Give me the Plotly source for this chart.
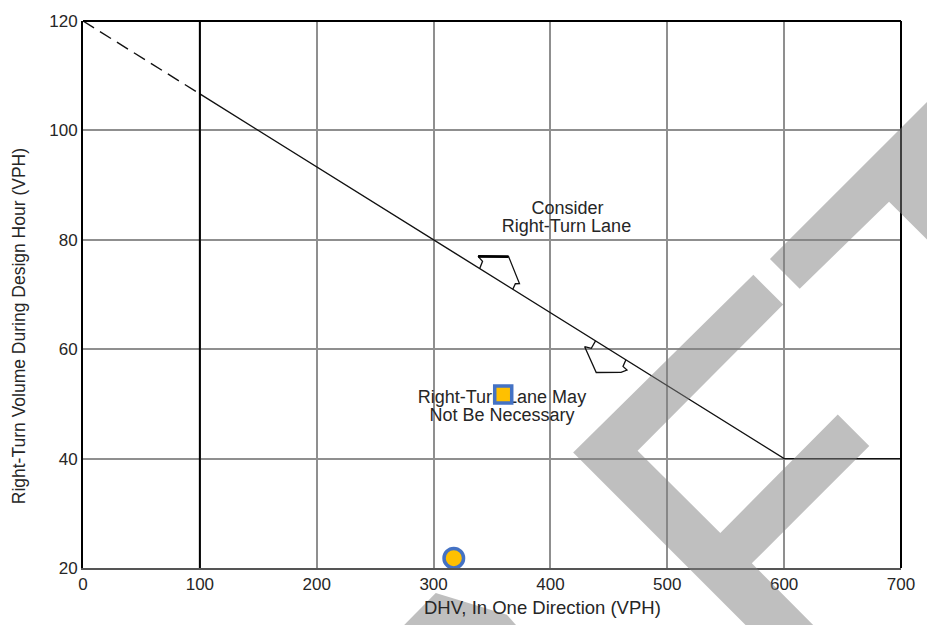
import numpy as np
import plotly.graph_objects as go

# ---- data -------------------------------------------------------------
X_TICKS = [0, 100, 200, 300, 400, 500, 600, 700]
Y_TICKS = [20, 40, 60, 80, 100, 120]

# warrant threshold curve (DHV vs right-turn volume)
CURVE_X = [0, 100, 600, 700]
CURVE_Y = [120, 106.67, 40, 40]

# plotted site volumes
SITE_SQUARE_X = [359.6]
SITE_SQUARE_Y = [51.7]
SITE_CIRCLE_X = [317.3]
SITE_CIRCLE_Y = [21.8]

# region label text
UPPER_LABEL = ["Consider", "Right-Turn Lane"]
LOWER_LABEL = ["Right-Turn Lane May", "Not Be Necessary"]

# block-arrow outlines: x along the curve, offset from the curve in VPH
ARROW_UP_X = [339.5, 341.9, 338.1, 364.2, 373.5, 370.0, 367.8]
ARROW_UP_DY = [0, 1.65, 2.05, 5.49, 1.8, 1.3, 0]
ARROW_DOWN_X = [438.6, 435.0, 429.3, 439.2, 460.4, 465.5, 462.1, 464.6]
ARROW_DOWN_DY = [0, -1.83, -2.3, -5.7, -2.85, -1.74, -1.54, 0]

# ---- layout geometry --------------------------------------------------
W, H = 927, 625
ML, MR, MT, MB = 83, 20, 17, 57
PW, PH = W - ML - MR, H - MT - MB

FONT = "Liberation Sans, Arial, Helvetica, sans-serif"
TXT = "#262626"


def on_curve(xs, dys):
    base = np.interp(xs, CURVE_X, CURVE_Y)
    return list(xs), list(base + np.asarray(dys))


def px_to_paper(pts):
    return [((x - ML) / PW, (H - MB - y) / PH) for x, y in pts]


def path(pts):
    p = px_to_paper(pts)
    return "M " + " L ".join(f"{x:.4f},{y:.4f}" for x, y in p) + " Z"


fig = go.Figure()

# threshold curve: dashed extension, then the solid warrant line
fig.add_trace(go.Scatter(x=CURVE_X[:2], y=CURVE_Y[:2], mode="lines",
                         line=dict(color="#111", width=1.4, dash="13px,7px"),
                         hoverinfo="skip"))
fig.add_trace(go.Scatter(x=CURVE_X[1:], y=CURVE_Y[1:], mode="lines",
                         line=dict(color="#111", width=1.4),
                         hoverinfo="skip"))

# block arrows pointing into each region
for xs, dys in ((ARROW_UP_X, ARROW_UP_DY), (ARROW_DOWN_X, ARROW_DOWN_DY)):
    ax, ay = on_curve(xs, dys)
    fig.add_trace(go.Scatter(x=ax, y=ay, mode="lines",
                             line=dict(color="#111", width=1.3),
                             hoverinfo="skip"))
ax, ay = on_curve(ARROW_UP_X[2:4], ARROW_UP_DY[2:4])
fig.add_trace(go.Scatter(x=ax, y=ay, mode="lines",
                         line=dict(color="#000", width=2.6), hoverinfo="skip"))

# region labels (one trace per line for tight leading)
label_rows = [
    (UPPER_LABEL[0], 414.6, 85.45),
    (UPPER_LABEL[1], 413.7, 82.3),
    (LOWER_LABEL[0], 358.5, 50.9),
    (LOWER_LABEL[1], 358.5, 47.75),
]
for txt, lx, ly in label_rows:
    fig.add_trace(go.Scatter(x=[lx], y=[ly], mode="text", text=[txt],
                             textposition="middle center",
                             textfont=dict(family=FONT, size=18, color=TXT),
                             hoverinfo="skip"))

# site points
fig.add_trace(go.Scatter(x=SITE_SQUARE_X, y=SITE_SQUARE_Y, mode="markers",
                         marker=dict(symbol="square", size=17, color="#FFC000",
                                     line=dict(color="#4472C4", width=3.5)),
                         hoverinfo="skip"))
fig.add_trace(go.Scatter(x=SITE_CIRCLE_X, y=SITE_CIRCLE_Y, mode="markers",
                         marker=dict(symbol="circle", size=19.5, color="#FFC000",
                                     line=dict(color="#4472C4", width=3.5)),
                         hoverinfo="skip"))

# frame pieces and the emphasised 100-VPH grid line
shapes = [
    dict(type="line", xref="x", yref="paper", x0=100, x1=100, y0=0, y1=1,
         line=dict(color="#000", width=2)),
    dict(type="line", xref="paper", yref="paper", x0=0, x1=1, y0=1, y1=1,
         line=dict(color="#000", width=2)),
    dict(type="line", xref="paper", yref="paper", x0=1, x1=1, y0=0, y1=1,
         line=dict(color="#000", width=2)),
]

# translucent grey watermark strokes
WM_FILL = "rgba(128,128,128,0.5)"
watermark = [
    [(576.7, 451.7), (758.3, 272.7), (788.3, 302.7), (641.7, 450.0),
     (725.0, 532.7), (843.3, 413.3), (875.0, 445.0), (756.7, 563.3),
     (843.0, 650.0), (775.0, 650.0)],
    [(775.0, 256.7), (1000.0, 31.7), (1100.0, 100.0), (1000.0, 304.0),
     (895.0, 199.0), (805.0, 286.7)],
    [(400.0, 632.0), (438.3, 593.3), (510.0, 615.0), (525.0, 632.0)],
]
for poly in watermark:
    shapes.append(dict(type="path", xref="paper", yref="paper", path=path(poly),
                       fillcolor=WM_FILL, line=dict(width=0), layer="above"))

annotations = [
    dict(text="Right-Turn Volume During Design Hour (VPH)", textangle=-90,
         xref="paper", yref="paper", x=(18 - ML) / PW, y=(H - MB - 324) / PH,
         xanchor="center", yanchor="middle", showarrow=False,
         font=dict(family=FONT, size=17.5, color=TXT)),
    dict(text="DHV, In One Direction (VPH)",
         xref="paper", yref="paper", x=(546 - ML) / PW, y=(H - MB - 608) / PH,
         xanchor="center", yanchor="middle", showarrow=False,
         font=dict(family=FONT, size=18.5, color=TXT)),
]

fig.update_layout(
    width=W, height=H,
    margin=dict(l=ML, r=MR, t=MT, b=MB, pad=0),
    paper_bgcolor="white", plot_bgcolor="white",
    showlegend=False,
    shapes=shapes, annotations=annotations,
    xaxis=dict(range=[0, 700], tickvals=X_TICKS, ticktext=[str(v) for v in X_TICKS],
               showgrid=True, gridcolor="#8f8f8f", gridwidth=1.5, zeroline=False,
               showline=True, linecolor="#555", linewidth=2, ticks="",
               ticklabelstandoff=0,
               tickfont=dict(family=FONT, size=17, color=TXT)),
    yaxis=dict(range=[20, 120], tickvals=Y_TICKS, ticktext=[str(v) for v in Y_TICKS],
               showgrid=True, gridcolor="#8f8f8f", gridwidth=1.5, zeroline=False,
               showline=True, linecolor="#000", linewidth=2, ticks="",
               ticklabelstandoff=0,
               tickfont=dict(family=FONT, size=17, color=TXT)),
)

fig.write_html("out.html")
